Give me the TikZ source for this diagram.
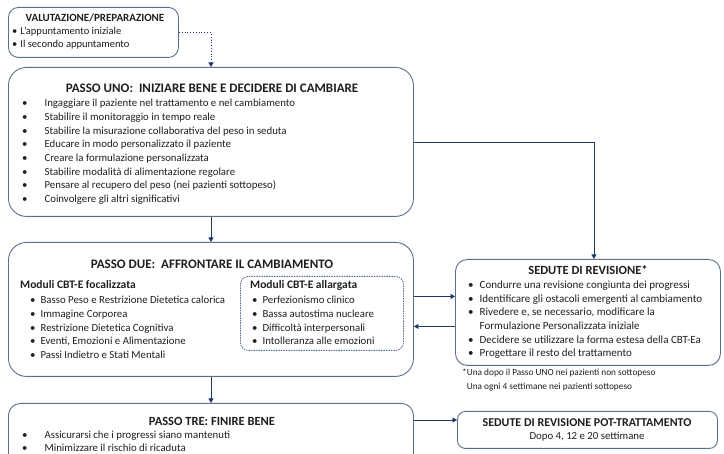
\documentclass[tikz,border=0pt]{standalone}
\usepackage{fontspec}
\setmainfont{Carlito}
\usetikzlibrary{arrows.meta}
\definecolor{bord}{HTML}{5B6E8C}
\definecolor{conn}{HTML}{1F3864}
\definecolor{txt}{HTML}{1E1E1E}
\newcommand\blt{\textbullet}
\tikzset{
 box/.style={draw=bord, line width=0.9pt, inner sep=0pt, anchor=north west},
 conn/.style={draw=conn, line width=0.8pt, -{Triangle[width=5pt,length=4.5pt]}},
 ttl/.style={font=\fontsize{13}{15}\selectfont\bfseries, text=txt, inner sep=0pt},
 sttl/.style={font=\fontsize{11.5}{13}\selectfont\bfseries, text=txt, inner sep=0pt},
 lst/.style={font=\fontsize{10.8}{13.7}\selectfont, text=txt, inner sep=0pt, anchor=north west, align=left},
}
\begin{document}
\begin{tikzpicture}[x=1pt,y=-1pt]
\useasboundingbox (0,0) rectangle (724,454);
% boxes
\node[box, rounded corners=10pt, minimum width=170pt, minimum height=50pt] (vp) at (8,7) {};
\node[box, rounded corners=18pt, minimum width=405pt, minimum height=149pt] (pu) at (8,67) {};
\node[box, rounded corners=18pt, minimum width=405pt, minimum height=134pt] (pd) at (8,242) {};
\node[box, rounded corners=8pt, dashed, dash pattern=on 1.5pt off 1pt, minimum width=163pt, minimum height=74pt] (pdi) at (240,276) {};
\node[box, rounded corners=12pt, minimum width=265pt, minimum height=106pt] (sr) at (455,259) {};
\node[box, rounded corners=12pt, minimum width=405pt, minimum height=62pt] (pt) at (8,403) {};
\node[box, rounded corners=8pt, minimum width=260pt, minimum height=37pt] (srpt) at (457,411) {};
% VP text
\node[sttl, font=\fontsize{11}{12}\selectfont\bfseries] (vpt) at (95,18) {VALUTAZIONE/PREPARAZIONE};
\node[lst, font=\fontsize{10.5}{13}\selectfont] (vpl) at (12,25) {\begin{tabular}{@{}l@{\hspace{3pt}}l@{}}\blt & L’appuntamento iniziale\\ \blt & Il secondo appuntamento\end{tabular}};
% PU text
\node[ttl] (put) at (212,88) {PASSO UNO:\ \ INIZIARE BENE E DECIDERE DI CAMBIARE};
\node[lst] (pul) at (22,97) {\begin{tabular}{@{}l@{\hspace{17pt}}l@{}}
\blt & Ingaggiare il paziente nel trattamento e nel cambiamento\\
\blt & Stabilire il monitoraggio in tempo reale\\
\blt & Stabilire la misurazione collaborativa del peso in seduta\\
\blt & Educare in modo personalizzato il paziente\\
\blt & Creare la formulazione personalizzata\\
\blt & Stabilire modalità di alimentazione regolare\\
\blt & Pensare al recupero del peso (nei pazienti sottopeso)\\
\blt & Coinvolgere gli altri significativi\end{tabular}};
% PD text
\node[ttl] (pdt) at (212,264) {PASSO DUE:\ \ AFFRONTARE IL CAMBIAMENTO};
\node[sttl, anchor=west] (pdf) at (20,285) {Moduli CBT-E focalizzata};
\node[lst] (pdl) at (30,294) {\begin{tabular}{@{}l@{\hspace{5pt}}l@{}}
\blt & Basso Peso e Restrizione Dietetica calorica\\
\blt & Immagine Corporea\\
\blt & Restrizione Dietetica Cognitiva\\
\blt & Eventi, Emozioni e Alimentazione\\
\blt & Passi Indietro e Stati Mentali\end{tabular}};
\node[sttl, anchor=west] (pda) at (250,285) {Moduli CBT-E allargata};
\node[lst] (pdal) at (252,294) {\begin{tabular}{@{}l@{\hspace{5pt}}l@{}}
\blt & Perfezionismo clinico\\
\blt & Bassa autostima nucleare\\
\blt & Difficoltà interpersonali\\
\blt & Intolleranza alle emozioni\end{tabular}};
% SR text
\node[ttl, font=\fontsize{12.5}{14}\selectfont\bfseries] (srt) at (588,270) {SEDUTE DI REVISIONE*};
\node[lst, font=\fontsize{11}{13.6}\selectfont] (srl) at (468,279) {\begin{tabular}{@{}l@{\hspace{6pt}}l@{}}
\blt & Condurre una revisione congiunta dei progressi\\
\blt & Identificare gli ostacoli emergenti al cambiamento\\
\blt & Rivedere e, se necessario, modificare la\\
 & Formulazione Personalizzata iniziale\\
\blt & Decidere se utilizzare la forma estesa della CBT-Ea\\
\blt & Progettare il resto del trattamento\end{tabular}};
\node[lst, font=\fontsize{9.3}{14}\selectfont] (srn) at (462,369) {*Una dopo il Passo UNO nei pazienti non sottopeso\\ \hphantom{*}Una ogni 4 settimane nei pazienti sottopeso};
% PT text
\node[ttl, font=\fontsize{12.5}{14}\selectfont\bfseries] (ptt) at (212,421) {PASSO TRE: FINIRE BENE};
\node[lst, font=\fontsize{10.8}{12.8}\selectfont] (ptl) at (22,429.5) {\begin{tabular}{@{}l@{\hspace{17pt}}l@{}}
\blt & Assicurarsi che i progressi siano mantenuti\\
\blt & Minimizzare il rischio di ricaduta\end{tabular}};
% SRPT text
\node[ttl, font=\fontsize{12}{14}\selectfont\bfseries] (srptt) at (587,423) {SEDUTE DI REVISIONE POT-TRATTAMENTO};
\node[lst, anchor=center] (srpts) at (587,437) {Dopo 4, 12 e 20 settimane};
% connectors
\draw[conn, dotted] (vp.east) -| (pu.north);
\draw[conn] (pu.south) -- (pd.north);
\draw[conn] (pd.south) -- (pt.north);
\coordinate (srin) at ([xshift=6pt]sr.north);
\draw[conn] (pu.east) -| (srin);
\coordinate (a1) at ([yshift=13pt]pd.east);
\draw[conn] (a1) -- (a1 -| sr.west);
\coordinate (a2) at ([yshift=-17pt]pd.east);
\draw[conn] (a2 -| sr.west) -- (a2);
\coordinate (a3) at (pt.east |- 0,420);
\draw[conn] (a3) -- (a3 -| srpt.west);
\end{tikzpicture}
\end{document}
